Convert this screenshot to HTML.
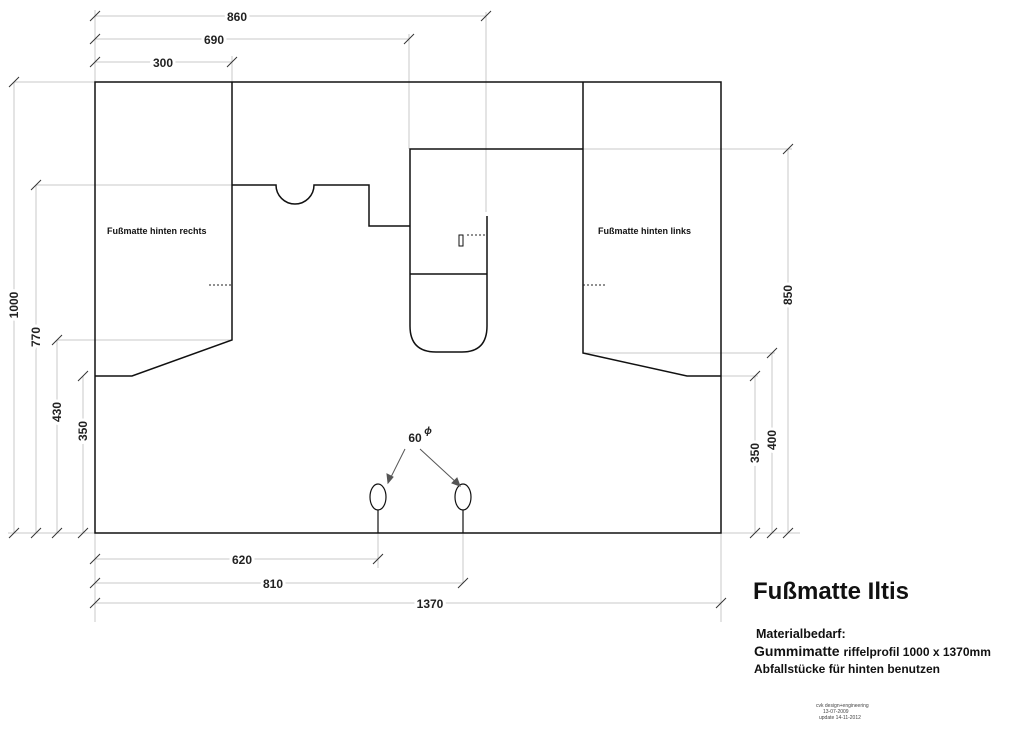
<!DOCTYPE html>
<html><head><meta charset="utf-8"><style>
html,body{margin:0;padding:0;background:#fff}
svg{display:block}
text{font-family:"Liberation Sans",sans-serif;font-weight:bold}
</style></head><body>
<svg width="1024" height="744" viewBox="0 0 1024 744" xmlns="http://www.w3.org/2000/svg">
<g stroke="#c8c8c8" stroke-width="1" fill="none">
<line x1="95" y1="16" x2="486" y2="16"/>
<line x1="95" y1="39" x2="409" y2="39"/>
<line x1="95" y1="62" x2="232" y2="62"/>
<line x1="95" y1="10" x2="95" y2="82"/>
<line x1="232" y1="56" x2="232" y2="82"/>
<line x1="409" y1="34" x2="409" y2="149"/>
<line x1="486" y1="12" x2="486" y2="212"/>
<line x1="14" y1="82" x2="14" y2="533"/>
<line x1="36" y1="185" x2="36" y2="533"/>
<line x1="57" y1="340" x2="57" y2="533"/>
<line x1="83" y1="376" x2="83" y2="533"/>
<line x1="14" y1="82" x2="95" y2="82"/>
<line x1="36" y1="185" x2="232" y2="185"/>
<line x1="57" y1="340" x2="232" y2="340"/>
<line x1="8" y1="533" x2="95" y2="533"/>
<line x1="788" y1="149" x2="788" y2="533"/>
<line x1="772" y1="353" x2="772" y2="533"/>
<line x1="755" y1="376" x2="755" y2="533"/>
<line x1="583" y1="149" x2="792" y2="149"/>
<line x1="583" y1="353" x2="775" y2="353"/>
<line x1="721" y1="376" x2="758" y2="376"/>
<line x1="721" y1="533" x2="800" y2="533"/>
<line x1="95" y1="559" x2="378" y2="559"/>
<line x1="95" y1="583" x2="463" y2="583"/>
<line x1="95" y1="603" x2="721" y2="603"/>
<line x1="95" y1="533" x2="95" y2="622"/>
<line x1="721" y1="533" x2="721" y2="622"/>
<line x1="378" y1="533" x2="378" y2="568"/>
<line x1="463" y1="533" x2="463" y2="583"/>
</g>
<g stroke="#333" stroke-width="1">
<line x1="90" y1="21" x2="100" y2="11"/><line x1="481" y1="21" x2="491" y2="11"/>
<line x1="90" y1="44" x2="100" y2="34"/><line x1="404" y1="44" x2="414" y2="34"/>
<line x1="90" y1="67" x2="100" y2="57"/><line x1="227" y1="67" x2="237" y2="57"/>
<line x1="9" y1="87" x2="19" y2="77"/><line x1="31" y1="190" x2="41" y2="180"/>
<line x1="52" y1="345" x2="62" y2="335"/><line x1="78" y1="381" x2="88" y2="371"/>
<line x1="9" y1="538" x2="19" y2="528"/><line x1="31" y1="538" x2="41" y2="528"/>
<line x1="52" y1="538" x2="62" y2="528"/><line x1="78" y1="538" x2="88" y2="528"/>
<line x1="783" y1="154" x2="793" y2="144"/><line x1="767" y1="358" x2="777" y2="348"/>
<line x1="750" y1="381" x2="760" y2="371"/>
<line x1="750" y1="538" x2="760" y2="528"/><line x1="767" y1="538" x2="777" y2="528"/><line x1="783" y1="538" x2="793" y2="528"/>
<line x1="90" y1="564" x2="100" y2="554"/><line x1="373" y1="564" x2="383" y2="554"/>
<line x1="90" y1="588" x2="100" y2="578"/><line x1="458" y1="588" x2="468" y2="578"/>
<line x1="90" y1="608" x2="100" y2="598"/><line x1="716" y1="608" x2="726" y2="598"/>
</g>
<g stroke="#111" stroke-width="1.5" fill="none">
<rect x="95" y="82" width="626" height="451"/>
<polyline points="232,82 232,340 132,376 95,376"/>
<polyline points="583,82 583,353 687,376 721,376"/>
<path d="M232,185 H276 A19,19 0 0 0 314,185 H369 V226 H410"/>
<path d="M583,149 H410 V326 Q410,352 436,352 H462 Q487,352 487,326 V216"/>
<line x1="410" y1="274" x2="487" y2="274"/>
<rect x="459" y="235" width="4" height="11" stroke-width="1"/>
<ellipse cx="378" cy="497" rx="8" ry="13" stroke-width="1.2"/>
<ellipse cx="463" cy="497" rx="8" ry="13" stroke-width="1.2"/>
<line x1="378" y1="510" x2="378" y2="533" stroke-width="1.2"/>
<line x1="463" y1="510" x2="463" y2="533" stroke-width="1.2"/>
</g>
<g stroke="#222" stroke-width="1" stroke-dasharray="2,2">
<line x1="467" y1="235" x2="487" y2="235"/>
<line x1="209" y1="285" x2="232" y2="285"/>
<line x1="583" y1="285" x2="607" y2="285"/>
</g>
<g stroke="#555" stroke-width="1" fill="#555">
<line x1="405" y1="449" x2="390" y2="479"/>
<polygon points="388,483 387,474 393,477"/>
<line x1="420" y1="449" x2="458" y2="484"/>
<polygon points="460,486 452,483 457,478"/>
</g>
<g fill="#222" font-size="12" text-anchor="middle">
<text x="237" y="21" style="paint-order:stroke" stroke="#fff" stroke-width="6">860</text>
<text x="214" y="44" stroke="#fff" stroke-width="6" style="paint-order:stroke">690</text>
<text x="163" y="67" stroke="#fff" stroke-width="6" style="paint-order:stroke">300</text>
<text x="242" y="564" stroke="#fff" stroke-width="6" style="paint-order:stroke">620</text>
<text x="273" y="588" stroke="#fff" stroke-width="6" style="paint-order:stroke">810</text>
<text x="430" y="608" stroke="#fff" stroke-width="6" style="paint-order:stroke">1370</text>
<text x="415" y="442">60</text>
<text x="428" y="434" font-size="10" font-style="italic">ϕ</text>
<text transform="translate(18,305) rotate(-90)" stroke="#fff" stroke-width="6" style="paint-order:stroke">1000</text>
<text transform="translate(40,337) rotate(-90)" stroke="#fff" stroke-width="6" style="paint-order:stroke">770</text>
<text transform="translate(61,412) rotate(-90)" stroke="#fff" stroke-width="6" style="paint-order:stroke">430</text>
<text transform="translate(87,431) rotate(-90)" stroke="#fff" stroke-width="6" style="paint-order:stroke">350</text>
<text transform="translate(792,295) rotate(-90)" stroke="#fff" stroke-width="6" style="paint-order:stroke">850</text>
<text transform="translate(776,440) rotate(-90)" stroke="#fff" stroke-width="6" style="paint-order:stroke">400</text>
<text transform="translate(759,453) rotate(-90)" stroke="#fff" stroke-width="6" style="paint-order:stroke">350</text>
</g>
<g fill="#111">
<text x="107" y="234" font-size="9">Fußmatte hinten  rechts</text>
<text x="598" y="234" font-size="9">Fußmatte hinten links</text>
<text x="753" y="599" font-size="24">Fußmatte Iltis</text>
<text x="756" y="638" font-size="12.5">Materialbedarf:</text>
<text x="754" y="656" font-size="14">Gummimatte  <tspan font-size="12">riffelprofil  1000 x 1370mm</tspan></text>
<text x="754" y="673" font-size="12">Abfallstücke für hinten benutzen</text>
<g font-size="5" fill="#444">
<text x="816" y="707" style="font-weight:normal">cvk design+engineering</text>
<text x="823" y="713" style="font-weight:normal">13-07-2009</text>
<text x="819" y="719" style="font-weight:normal">update 14-11-2012</text>
</g>
</g>
</svg>
</body></html>
